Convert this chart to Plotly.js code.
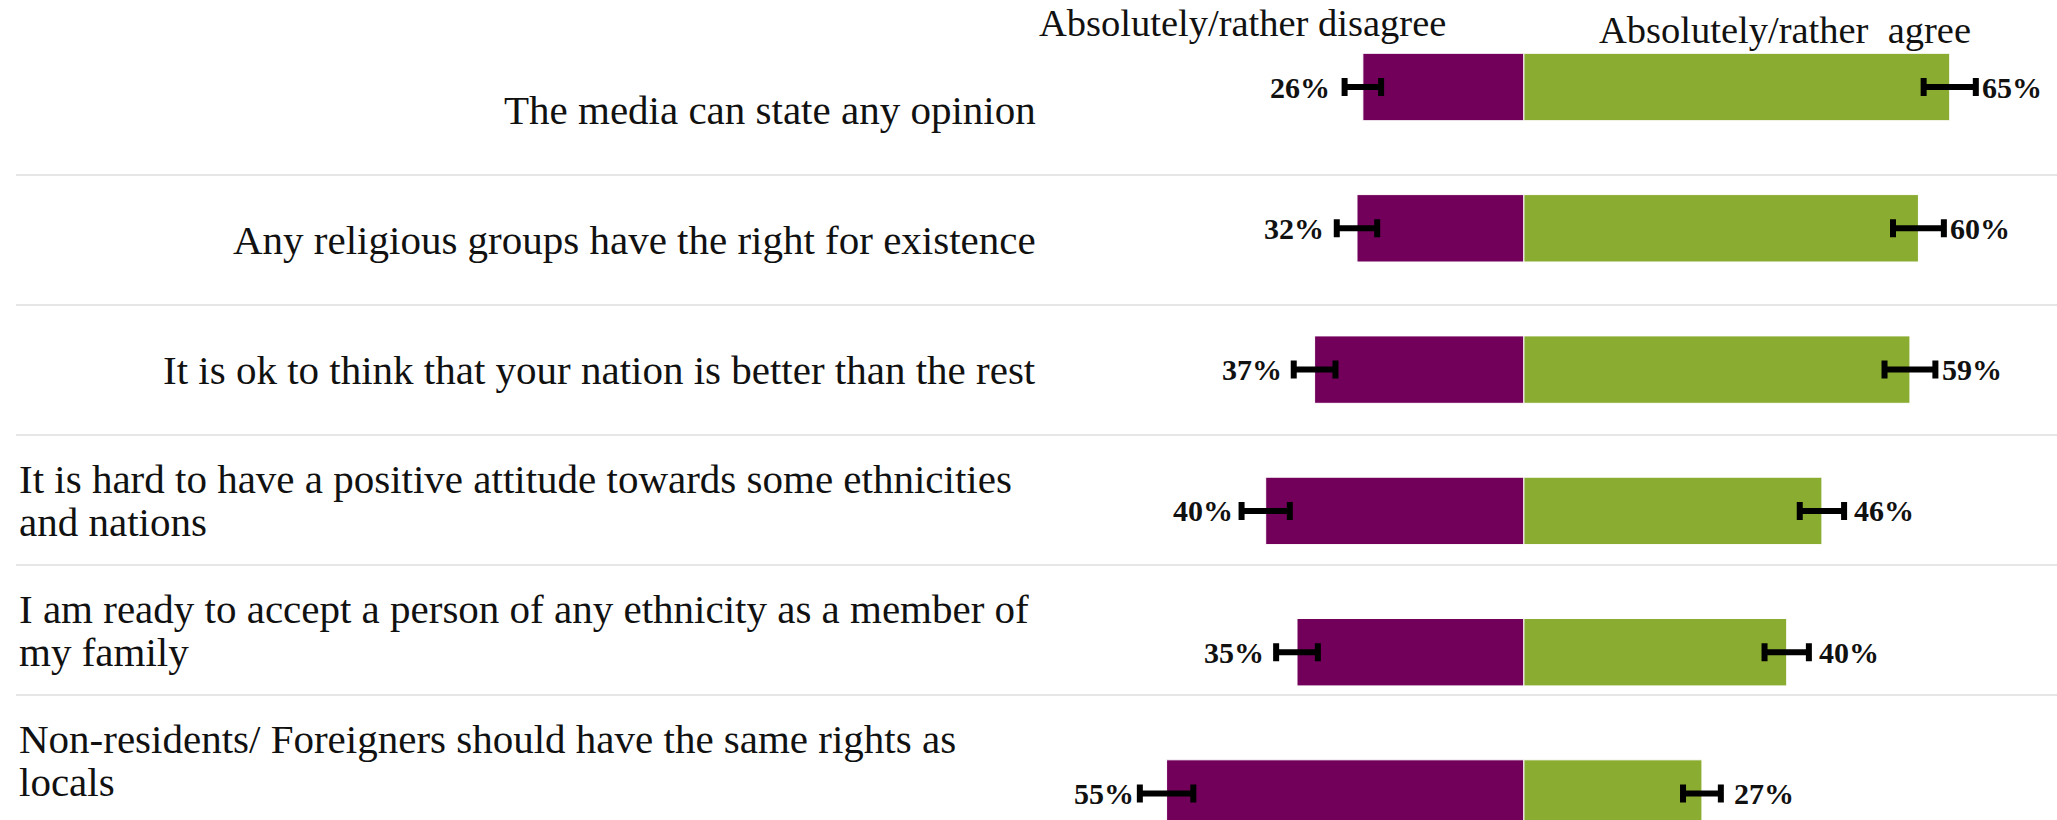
<!DOCTYPE html>
<html><head><meta charset="utf-8">
<script src="https://cdn.plot.ly/plotly-3.0.1.min.js"></script>
<style>html,body{margin:0;padding:0;background:#fff;} #chart{width:2057px;height:820px;}</style>
</head><body><div id="chart"></div>
<script>
const categories = [
  "The media can state any opinion",
  "Any religious groups have the right for existence",
  "It is ok to think that your nation is better than the rest",
  "It is hard to have a positive attitude towards some ethnicities<br>and nations",
  "I am ready to accept a person of any ethnicity as a member of<br>my family",
  "Non-residents/ Foreigners should have the same rights as<br>locals"
];
const seriesNames = ["Absolutely/rather disagree", "Absolutely/rather\u00a0 agree"];
const disagreeValues = [24.7, 25.6, 32.1, 39.6, 34.8, 54.8];
const agreeValues = [65.3, 60.5, 59.2, 45.7, 40.3, 27.3];
const disagreeErrors = [2.8, 3.1, 3.2, 3.7, 3.2, 4.1];
const agreeErrors = [4.0, 3.9, 3.9, 3.4, 3.4, 2.9];
const disagreeLabels = ["26%", "32%", "37%", "40%", "35%", "55%"];
const agreeLabels = ["65%", "60%", "59%", "46%", "40%", "27%"];

const SERIF = "Liberation Serif, Georgia, serif";
const purple = "#72005b";
const green = "#8aac31";
const idx = categories.map((_, i) => i);

const traces = [
  {
    type: "bar", orientation: "h", name: seriesNames[0],
    y: idx, x: disagreeValues.map(v => -v), width: 0.477,
    marker: {color: purple, line: {color: "#ffffff", width: 1}},
    error_x: {type: "data", array: disagreeErrors, visible: true, color: "#000", thickness: 6, width: 9},
    hoverinfo: "skip"
  },
  {
    type: "bar", orientation: "h", name: seriesNames[1],
    y: idx, x: agreeValues, width: 0.477,
    marker: {color: green, line: {color: "#ffffff", width: 1}},
    error_x: {type: "data", array: agreeErrors, visible: true, color: "#000", thickness: 6, width: 9},
    hoverinfo: "skip"
  },
  {
    type: "scatter", mode: "markers", x: idx.map(() => 0), y: idx, yaxis: "y2",
    marker: {opacity: 0}, hoverinfo: "skip", showlegend: false
  }
];

const LINE_GAP = 43;
const annotations = [];
categories.forEach((c, i) => {
  const lines = c.split("<br>");
  const multi = lines.length > 1;
  lines.forEach((ln, j) => {
    annotations.push({
      text: ln, xref: "paper", yref: "y2", y: i,
      yshift: ((lines.length - 1) / 2 - j) * LINE_GAP,
      x: multi ? 0.0083 : 0.5046, xanchor: multi ? "left" : "right", yanchor: "middle",
      align: multi ? "left" : "right", showarrow: false,
      font: {family: SERIF, size: 41, color: "#111"}
    });
  });
  annotations.push({
    text: disagreeLabels[i], xref: "x", yref: "y", x: -disagreeValues[i], y: i,
    xanchor: "right", yanchor: "middle", xshift: -31, showarrow: false,
    font: {family: SERIF, size: 30, color: "#111", weight: "bold"}
  });
  annotations.push({
    text: agreeLabels[i], xref: "x", yref: "y", x: agreeValues[i], y: i,
    xanchor: "left", yanchor: "middle", xshift: 30, showarrow: false,
    font: {family: SERIF, size: 30, color: "#111", weight: "bold"}
  });
});
annotations.push({
  text: seriesNames[0], xref: "paper", yref: "paper", x: 1242.5 / 2057, y: 1 - 23 / 820,
  xanchor: "center", yanchor: "middle", showarrow: false,
  font: {family: SERIF, size: 38.5, color: "#111"}
});
annotations.push({
  text: seriesNames[1], xref: "paper", yref: "paper", x: 1784.6 / 2057, y: 1 - 30 / 820,
  xanchor: "center", yanchor: "middle", showarrow: false,
  font: {family: SERIF, size: 38.5, color: "#111"}
});

const shapes = [];
for (let i = 0; i < categories.length - 1; i++) {
  shapes.push({
    type: "line", xref: "paper", yref: "y2", x0: 16 / 2057, x1: 1, y0: i + 0.5, y1: i + 0.5,
    line: {color: "#e6e6e6", width: 2}, layer: "below"
  });
}

const layout = {
  width: 2057, height: 820,
  margin: {l: 0, r: 0, t: 0, b: 0, pad: 0},
  paper_bgcolor: "#ffffff", plot_bgcolor: "#ffffff",
  barmode: "relative", showlegend: false,
  xaxis: {range: [-233.7, 81.75], visible: false, fixedrange: true},
  yaxis: {range: [5.1875, -0.6157], visible: false, fixedrange: true},
  yaxis2: {range: [5.4615, -0.846], visible: false, overlaying: "y", fixedrange: true},
  annotations: annotations, shapes: shapes
};

Plotly.newPlot("chart", traces, layout, {staticPlot: true, displayModeBar: false});
</script>
</body></html>
